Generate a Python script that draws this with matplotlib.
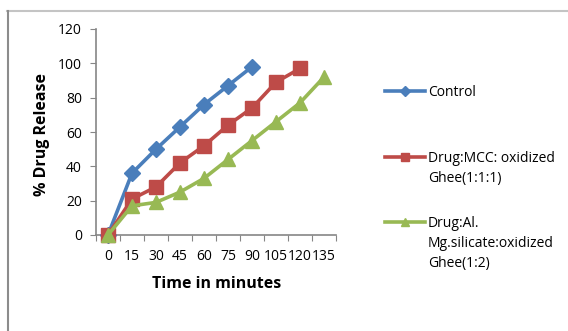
import matplotlib.pyplot as plt
from matplotlib.lines import Line2D

# dissolution data, % drug released at each sampling time
Times = ['0', '15', '30', '45', '60', '75', '90', '105', '120', '135']
Control = [0, 36, 50, 63, 76, 87, 98]
MCC = [0, 21, 28, 42, 52, 64, 74, 89, 97]
AlMg = [0, 17, 19, 25, 33, 44, 55, 66, 77, 92]
SeriesNames = ['Control', 'Drug:MCC: oxidized\nGhee(1:1:1)',
               'Drug:Al.\nMg.silicate:oxidized\nGhee(1:2)']

plt.rcParams['font.family'] = ['Open Sans', 'DejaVu Sans']
W, H = 568, 331
fig = plt.figure(figsize=(W / 100, H / 100), dpi=100)
ax = fig.add_axes([96 / W, (H - 235) / H, 240 / W, 206 / H])

Styles = [
    dict(color='#4a7ebb', marker='D', ms=8),
    dict(color='#be4b48', marker='s', ms=10),
    dict(color='#98b954', marker='^', ms=10),
]
for Values, Style in zip([Control, MCC, AlMg], Styles):
    ax.plot(range(len(Values)), Values, lw=2.6, color=Style['color'],
            marker=Style['marker'], ms=Style['ms'], mec=Style['color'],
            clip_on=False, zorder=3)

ax.set_xlim(-0.5, len(Times) - 0.5)
ax.set_ylim(0, 120)
ax.set_yticks(range(0, 121, 20))
ax.set_xticks([i - 0.5 for i in range(len(Times) + 1)])
ax.set_xticklabels([])
ax.set_xticks(range(len(Times)), minor=True)
ax.set_xticklabels(Times, minor=True)
ax.tick_params(axis='x', which='minor', length=0, pad=10, labelsize=10)
ax.tick_params(axis='x', which='major', length=4, color='#868686')
ax.tick_params(axis='y', length=4, color='#868686', labelsize=10, pad=6)
for Side in ['top', 'right']:
    ax.spines[Side].set_visible(False)
for Side in ['left', 'bottom']:
    ax.spines[Side].set_color('#868686')
    ax.spines[Side].set_linewidth(1.2)

fig.text(217 / W, 1 - 284 / H, 'Time in minutes', ha='center', va='center',
         fontsize=11.5, fontweight='bold')
fig.text(42 / W, 1 - 134 / H, '% Drug Release', ha='center', va='center',
         rotation=90, fontsize=11.5, fontweight='bold')

# legend drawn by hand so the key sits beside the first text line
LegendY = [91, 157, 222]
for Name, Style, Y in zip(SeriesNames, Styles, LegendY):
    fy = 1 - Y / H
    fig.add_artist(Line2D([385 / W, 425 / W], [fy, fy], color=Style['color'],
                          lw=2.6, transform=fig.transFigure))
    fig.add_artist(Line2D([405 / W], [fy], color=Style['color'],
                          marker=Style['marker'], ms=Style['ms'] * 0.6,
                          transform=fig.transFigure))
    fig.text(428 / W, fy + 6 / H, Name, ha='left', va='top', fontsize=10,
             linespacing=1.45)

# chart frame
fig.add_artist(Line2D([7 / W, 1], [1 - 10.5 / H, 1 - 10.5 / H], color='#c4c4c4',
                      lw=1.5, transform=fig.transFigure))
fig.add_artist(Line2D([7.5 / W, 7.5 / W], [0, 1 - 10.5 / H], color='#8c8c8c',
                      lw=1.5, transform=fig.transFigure))

fig.savefig('out.png', dpi=100)
